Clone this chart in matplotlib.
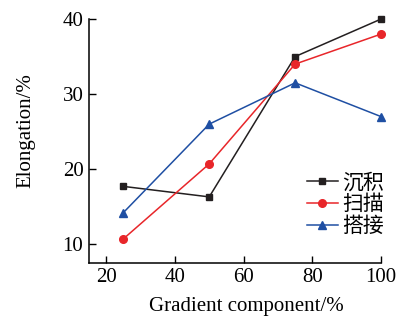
import matplotlib
matplotlib.use("Agg")
import matplotlib.pyplot as plt

x = [25, 50, 75, 100]
chenji = [17.7, 16.3, 35.0, 40.0]
saomiao = [10.7, 20.7, 34.0, 38.0]
dajie = [14.2, 26.0, 31.5, 27.0]
labels = ["沉积", "扫描", "搭接"]

plt.rcParams['font.family'] = ['Liberation Serif', 'Noto Sans CJK SC']
fig = plt.figure(figsize=(3.99, 3.23), dpi=100)
ax = fig.add_axes([0.223, 0.186, 0.732, 0.755])

ax.plot(x, chenji, color='#231f20', marker='s', ms=5, lw=1.1, label=labels[0], clip_on=False)
ax.plot(x, saomiao, color='#e8262a', marker='o', ms=5.5, lw=1.1, label=labels[1], clip_on=False)
ax.plot(x, dajie, color='#1f4fa3', marker='^', ms=6, lw=1.1, label=labels[2], clip_on=False)

ax.set_xlim(15, 100)
ax.set_ylim(7.5, 40)
ax.set_xticks([20, 40, 60, 80, 100])
ax.set_yticks([10, 20, 30, 40])
ax.spines['top'].set_visible(False)
ax.spines['right'].set_visible(False)
ax.spines['left'].set_bounds(7.5, 40)
ax.tick_params(direction='in', length=5, width=1, labelsize=15, pad=4)
for s in ['left', 'bottom']:
    ax.spines[s].set_linewidth(1.1)
ax.set_xlabel('Gradient component/%', fontsize=15)
ax.set_ylabel('Elongation/%', fontsize=15)
ax.xaxis.set_label_coords(0.538, -0.14)
ax.yaxis.set_label_coords(-0.185, 0.543)

leg = ax.legend(loc='lower right', bbox_to_anchor=(1.06, 0.045), frameon=False,
                prop={'family': ['Noto Sans CJK SC'], 'size': 15},
                handlelength=1.5, handletextpad=0.2, labelspacing=0.0, borderpad=0.2)

fig.savefig('out.png', dpi=100)
